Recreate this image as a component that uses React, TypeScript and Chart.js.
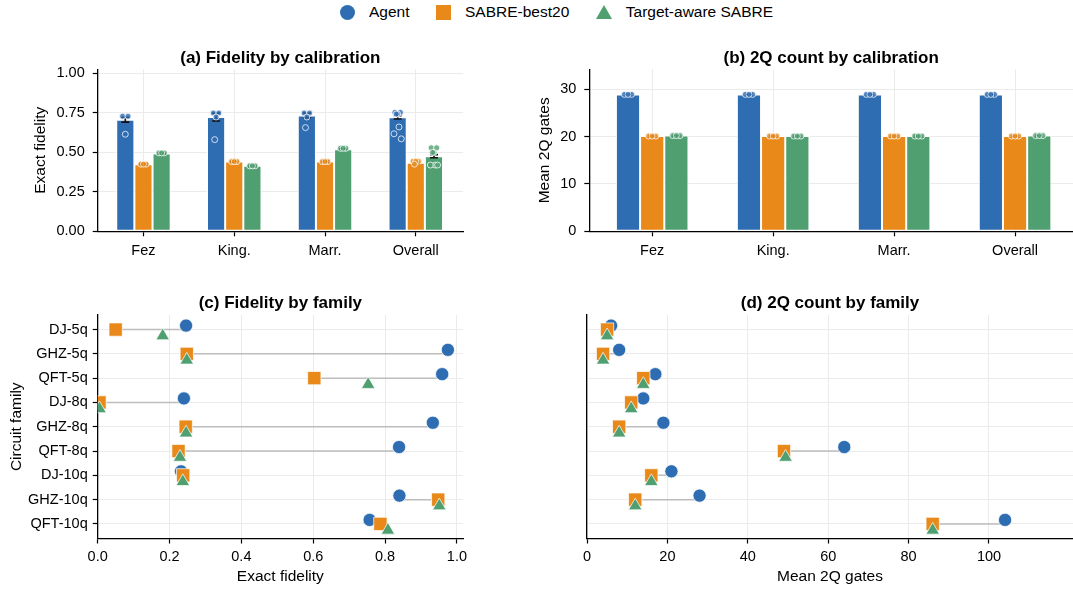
import React, { useEffect, useRef } from 'react';
import { Chart, registerables } from 'chart.js';

Chart.register(...registerables);

// ---------- data ----------
const calibrations = ['Fez', 'King.', 'Marr.', 'Overall'];
const fidelityTicks = [0, 0.25, 0.5, 0.75, 1.0];
const gateTicksBar = [0, 10, 20, 30];

const fidAgent = [0.706, 0.723, 0.733, 0.721];
const fidSabre = [0.424, 0.441, 0.441, 0.433];
const fidTarget = [0.492, 0.414, 0.519, 0.475];
const fidAgentErr = [0.015, 0.025, 0.015, 0.01];
const fidSabreErr = [0.004, 0.004, 0.004, 0.003];
const fidTargetErr = [0.003, 0.003, 0.003, 0.01];
const fidAgentSeeds = [
  [0.728, 0.728, 0.614],
  [0.748, 0.748, 0.723, 0.58],
  [0.748, 0.748, 0.723, 0.656],
  [0.752, 0.752, 0.742, 0.742, 0.66, 0.617, 0.585],
];
const fidSabreSeeds = [
  [0.425, 0.425, 0.425],
  [0.441, 0.441, 0.441],
  [0.441, 0.441, 0.441],
  [0.443, 0.443, 0.443, 0.425],
];
const fidTargetSeeds = [
  [0.496, 0.496, 0.496],
  [0.414, 0.414, 0.414],
  [0.525, 0.525, 0.525],
  [0.528, 0.528, 0.499, 0.499, 0.419, 0.419, 0.419],
];

const gatesAgent = [28.9, 28.9, 28.9, 28.9];
const gatesSabre = [20.1, 20.1, 20.1, 20.1];
const gatesTarget = [20.2, 20.1, 20.1, 20.2];
const gatesAgentErr = [0.08, 0.08, 0.08, 0.05];
const gatesSabreErr = [0.05, 0.05, 0.05, 0.03];
const gatesTargetErr = [0.05, 0.05, 0.05, 0.03];
const gatesAgentSeeds = [
  [28.9, 28.9, 28.9],
  [28.9, 28.9, 28.9],
  [28.9, 28.9, 28.9],
  [28.9, 28.9, 28.9],
];
const gatesSabreSeeds = [
  [20.1, 20.1, 20.1],
  [20.1, 20.1, 20.1],
  [20.1, 20.1, 20.1],
  [20.1, 20.1, 20.1],
];
const gatesTargetSeeds = [
  [20.2, 20.2, 20.2],
  [20.1, 20.1, 20.1],
  [20.1, 20.1, 20.1],
  [20.2, 20.2, 20.2],
];

const families = ['DJ-5q', 'GHZ-5q', 'QFT-5q', 'DJ-8q', 'GHZ-8q', 'QFT-8q', 'DJ-10q', 'GHZ-10q', 'QFT-10q'];
const famFidAgent = [0.246, 0.975, 0.959, 0.24, 0.933, 0.839, 0.232, 0.84, 0.757];
const famFidSabre = [0.05, 0.248, 0.603, 0.005, 0.245, 0.225, 0.238, 0.948, 0.787];
const famFidTarget = [0.181, 0.248, 0.753, 0.005, 0.246, 0.229, 0.237, 0.951, 0.808];
const famGatesAgent = [6, 8, 17, 14, 19, 64, 21, 28, 104];
const famGatesSabre = [5, 4, 14, 11, 8, 49, 16, 12, 86];
const famGatesTarget = [5, 4, 14, 11, 8, 49.4, 16, 12, 86];
const fidelityTicksFam = [0, 0.2, 0.4, 0.6, 0.8, 1.0];
const gateTicksFam = [0, 20, 40, 60, 80, 100];

// ---------- style ----------
const FONT = "'Liberation Sans', Arial, Helvetica, sans-serif";
const C_AGENT = '#2f6db3';
const C_SABRE = '#e8891a';
const C_TARGET = '#4f9f71';
const GRID = '#ebebeb';
const groupOffsets = [-0.2, 0, 0.2];
const jitter = [-0.03, 0.03, 0, -0.015, 0.015, -0.04, 0.04];

function alpha(hex: string, a: number) {
  const n = parseInt(hex.slice(1), 16);
  return `rgba(${(n >> 16) & 255},${(n >> 8) & 255},${n & 255},${a})`;
}

const errorBarPlugin = {
  id: 'errbars',
  afterDatasetDraw(chart: any, args: any) {
    const ds: any = chart.data.datasets[args.index];
    if (!ds.errors) return;
    const y = chart.scales.y;
    const ctx = chart.ctx;
    ctx.save();
    ctx.strokeStyle = '#111';
    ctx.lineWidth = 1.6;
    args.meta.data.forEach((el: any, i: number) => {
      const v = ds.data[i].y;
      const top = y.getPixelForValue(v + ds.errors[i]);
      const bot = y.getPixelForValue(v - ds.errors[i]);
      const x = el.x;
      ctx.beginPath();
      ctx.moveTo(x, top);
      ctx.lineTo(x, bot);
      ctx.moveTo(x - 4, top);
      ctx.lineTo(x + 4, top);
      ctx.moveTo(x - 4, bot);
      ctx.lineTo(x + 4, bot);
      ctx.stroke();
    });
    ctx.restore();
  },
};

function baseAxis(tickPad: number) {
  return {
    grid: { color: GRID, lineWidth: 1, tickColor: '#000', tickLength: 5, tickWidth: 1.2, drawTicks: true, offset: false },
    border: { color: '#000', width: 1.3 },
    ticks: { color: '#000', font: { family: FONT, size: 14.5 }, padding: tickPad, autoSkip: false, maxRotation: 0 },
  };
}

function fitX(h: number) {
  return (s: any) => {
    s.height = h;
    s.paddingLeft = 0;
    s.paddingRight = 0;
  };
}

function fitY(w: number) {
  return (s: any) => {
    s.width = w;
    s.paddingTop = 0;
    s.paddingBottom = 0;
  };
}

function titleOpts(text: string, top: number, bottom: number) {
  return {
    display: true,
    text,
    fullSize: false,
    color: '#000',
    font: { family: FONT, size: 17, weight: 'bold' },
    padding: { top, bottom },
  };
}

function axisTitle(text: string, padding: any) {
  return { display: true, text, color: '#000', font: { family: FONT, size: 15.5 }, padding };
}

function barPanel(
  title: string,
  yLabel: string,
  means: number[][],
  errs: number[][],
  seeds: number[][][],
  yMax: number,
  yTicks: number[],
  fmt: (v: number) => string,
  xMin: number,
  xMax: number,
  yWidth: number,
  yTitlePad: number,
  rightPad: number
) {
  const colors = [C_AGENT, C_SABRE, C_TARGET];
  const bars = means.map((m, k) => ({
    type: 'bar',
    label: ['Agent', 'SABRE-best20', 'Target-aware SABRE'][k],
    data: m.map((v, i) => ({ x: i, y: v })),
    errors: errs[k],
    backgroundColor: colors[k],
    borderColor: '#ffffff',
    borderWidth: 1,
    borderSkipped: false,
    categoryPercentage: 0.6,
    barPercentage: 1.0,
    order: 1,
  }));
  const pts = seeds.map((group, k) => ({
    type: 'scatter',
    data: group.flatMap((vals, i) => vals.map((v, j) => ({ x: i + groupOffsets[k] + jitter[j % jitter.length], y: v }))),
    backgroundColor: alpha(colors[k], 0.8),
    borderColor: 'rgba(255,255,255,0.95)',
    borderWidth: 0.8,
    pointRadius: 3,
    order: 0,
  }));
  const ax = baseAxis(8);
  const ay = baseAxis(8);
  return {
    type: 'bar',
    data: { datasets: [...bars, ...pts] },
    options: {
      responsive: false,
      animation: false,
      events: [],
      layout: { autoPadding: false, padding: { left: 0, right: rightPad, top: 0, bottom: 0 } },
      plugins: {
        legend: { display: false },
        tooltip: { enabled: false },
        title: titleOpts(title, 17.8, 1.1),
      },
      scales: {
        x: {
          ...ax,
          type: 'linear',
          min: xMin,
          max: xMax,
          offset: false,
          ticks: { ...ax.ticks, padding: 6, callback: (v: number) => calibrations[v] ?? '' },
          afterBuildTicks: (s: any) => {
            s.ticks = calibrations.map((_, i) => ({ value: i }));
          },
          afterFit: fitX(48.7),
        },
        y: {
          ...ay,
          type: 'linear',
          min: 0,
          max: yMax,
          ticks: { ...ay.ticks, callback: (v: number) => fmt(v) },
          afterBuildTicks: (s: any) => {
            s.ticks = yTicks.map((v) => ({ value: v }));
          },
          afterFit: fitY(yWidth),
          title: axisTitle(yLabel, { top: yTitlePad, bottom: 0 }),
        },
      },
    },
    plugins: [errorBarPlugin],
  };
}

function dotPanel(
  title: string,
  xLabel: string,
  agent: number[],
  sabre: number[],
  target: number[],
  xMax: number,
  xTicks: number[],
  fmt: (v: number) => string,
  showY: boolean,
  yWidth: number,
  rightPad: number
) {
  const ranges = families.map((_, i) => {
    const vals = [agent[i], sabre[i], target[i]];
    return { type: 'scatter', showLine: true, data: [{ x: Math.min(...vals), y: i }, { x: Math.max(...vals), y: i }], pointRadius: 0, borderColor: '#bdbdbd', borderWidth: 1.5, order: 3 };
  });
  const ax = baseAxis(5);
  const ay = baseAxis(5);
  return {
    type: 'scatter',
    data: {
      datasets: [
        { label: 'Target-aware SABRE', data: target.map((v, i) => ({ x: v, y: i + 0.26 })), pointStyle: 'triangle', pointRadius: 7.8, backgroundColor: C_TARGET, borderColor: 'rgba(255,255,255,0.9)', borderWidth: 0.8, order: 0 },
        { label: 'SABRE-best20', data: sabre.map((v, i) => ({ x: v, y: i })), pointStyle: 'rect', pointRadius: 9.4, backgroundColor: C_SABRE, borderColor: 'rgba(255,255,255,0.9)', borderWidth: 0.8, order: 1 },
        { label: 'Agent', data: agent.map((v, i) => ({ x: v, y: i - 0.165 })), pointStyle: 'circle', pointRadius: 6.6, backgroundColor: C_AGENT, borderColor: 'rgba(255,255,255,0.9)', borderWidth: 0.8, order: 2 },
        ...ranges,
      ],
    },
    options: {
      responsive: false,
      animation: false,
      events: [],
      layout: { autoPadding: false, padding: { left: 0, right: rightPad, top: 0, bottom: 0 } },
      plugins: {
        legend: { display: false },
        tooltip: { enabled: false },
        title: titleOpts(title, 12.8, 1.8),
      },
      scales: {
        x: {
          ...ax,
          type: 'linear',
          min: 0,
          max: xMax,
          ticks: { ...ax.ticks, padding: 5, callback: (v: number) => fmt(v) },
          afterBuildTicks: (s: any) => {
            s.ticks = xTicks.map((v) => ({ value: v }));
          },
          afterFit: fitX(50.5),
          title: axisTitle(xLabel, { top: 0, bottom: 2.7 }),
        },
        y: {
          ...ay,
          type: 'linear',
          reverse: true,
          min: -0.6,
          max: 8.6,
          grid: { ...ay.grid, drawTicks: showY },
          ticks: { ...ay.ticks, display: showY, callback: (v: number) => families[v] ?? '' },
          afterBuildTicks: (s: any) => {
            s.ticks = families.map((_, i) => ({ value: i }));
          },
          afterFit: fitY(yWidth),
          title: showY ? axisTitle('Circuit family', { top: 7.7, bottom: 0 }) : { display: false },
        },
      },
    },
  };
}

function ChartCanvas({ config, left, top, width, height }: any) {
  const ref = useRef<HTMLCanvasElement | null>(null);
  useEffect(() => {
    if (!ref.current) return;
    const chart = new Chart(ref.current, config);
    return () => chart.destroy();
  }, []);
  return <canvas ref={ref} width={width} height={height} style={{ position: 'absolute', left, top, width, height }} />;
}

function Legend() {
  const item = { display: 'flex', alignItems: 'center' } as const;
  return (
    <div
      style={{
        position: 'absolute',
        left: 340,
        top: 4.5,
        height: 15,
        display: 'flex',
        alignItems: 'center',
        fontFamily: FONT,
        fontSize: 15.5,
        color: '#000',
        whiteSpace: 'nowrap',
      }}
    >
      <div style={item}>
        <span style={{ width: 15, height: 15, borderRadius: '50%', background: C_AGENT, display: 'inline-block' }} />
        <span style={{ marginLeft: 14 }}>Agent</span>
      </div>
      <div style={{ ...item, marginLeft: 26.5 }}>
        <span style={{ width: 15, height: 15, background: C_SABRE, display: 'inline-block' }} />
        <span style={{ marginLeft: 14 }}>SABRE-best20</span>
      </div>
      <div style={{ ...item, marginLeft: 26.5 }}>
        <span
          style={{
            width: 0,
            height: 0,
            borderLeft: '8px solid transparent',
            borderRight: '8px solid transparent',
            borderBottom: `14px solid ${C_TARGET}`,
            display: 'inline-block',
          }}
        />
        <span style={{ marginLeft: 14 }}>Target-aware SABRE</span>
      </div>
    </div>
  );
}

export default function App() {
  const cfgA = barPanel(
    '(a) Fidelity by calibration',
    'Exact fidelity',
    [fidAgent, fidSabre, fidTarget],
    [fidAgentErr, fidSabreErr, fidTargetErr],
    [fidAgentSeeds, fidSabreSeeds, fidTargetSeeds],
    1.025,
    fidelityTicks,
    (v) => v.toFixed(2),
    -0.504,
    3.52,
    97.7,
    31.7,
    17
  );
  const cfgB = barPanel(
    '(b) 2Q count by calibration',
    'Mean 2Q gates',
    [gatesAgent, gatesSabre, gatesTarget],
    [gatesAgentErr, gatesSabreErr, gatesTargetErr],
    [gatesAgentSeeds, gatesSabreSeeds, gatesTargetSeeds],
    34.2,
    gateTicksBar,
    (v) => String(v),
    -0.52,
    3.479,
    99.3,
    45.7,
    0
  );
  const cfgC = dotPanel('(c) Fidelity by family', 'Exact fidelity', famFidAgent, famFidSabre, famFidTarget, 1.017, fidelityTicksFam, (v) => v.toFixed(1), true, 97.7, 17);
  const cfgD = dotPanel('(d) 2Q count by family', 'Mean 2Q gates', famGatesAgent, famGatesSabre, famGatesTarget, 120.9, gateTicksFam, (v) => String(v), false, 97, 0);
  return (
    <div style={{ position: 'absolute', left: 0, top: 0, width: 1073, height: 589, background: '#fff', overflow: 'hidden' }}>
      <Legend />
      <ChartCanvas config={cfgA} left={0} top={30} width={480} height={250} />
      <ChartCanvas config={cfgB} left={490} top={30} width={583} height={250} />
      <ChartCanvas config={cfgC} left={0} top={280} width={480} height={309} />
      <ChartCanvas config={cfgD} left={490} top={280} width={583} height={309} />
    </div>
  );
}
